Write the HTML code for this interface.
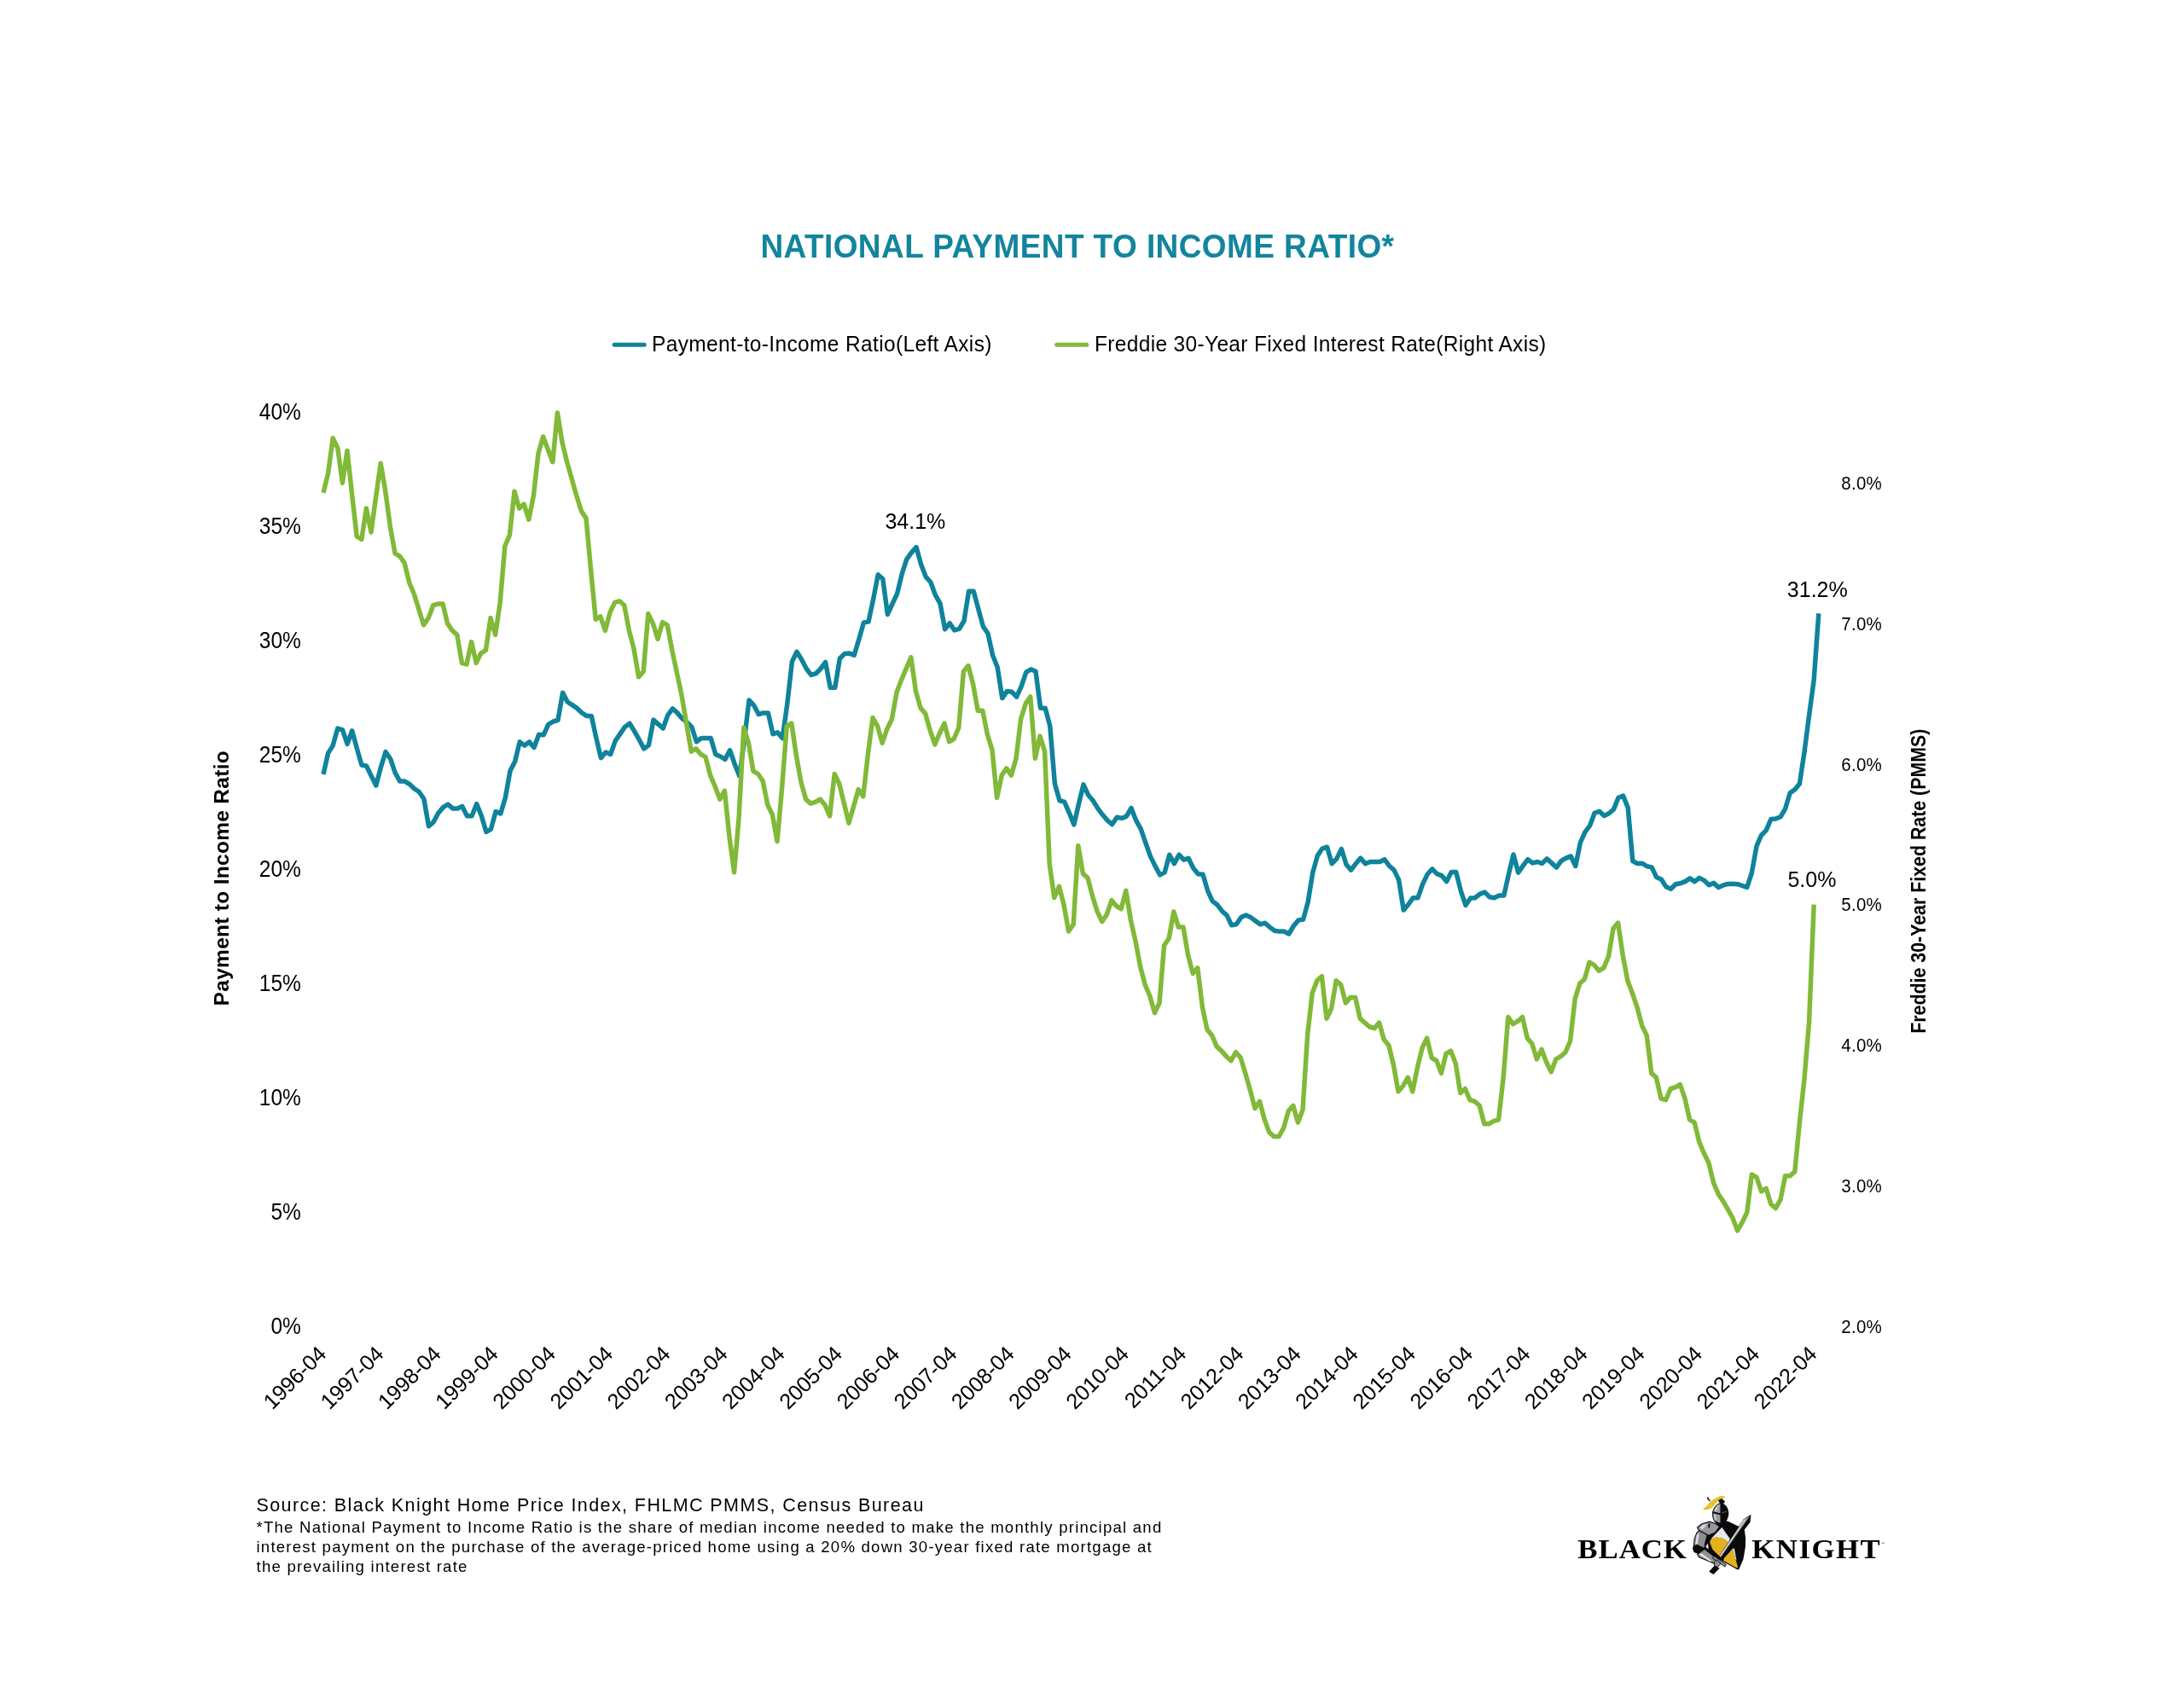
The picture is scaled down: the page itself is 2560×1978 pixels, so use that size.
<!DOCTYPE html>
<html><head><meta charset="utf-8"><title>National Payment to Income Ratio</title>
<style>html,body{margin:0;padding:0;background:#fff;}body{width:2560px;height:1978px;overflow:hidden;}svg{display:block;will-change:transform;font-family:"Liberation Sans",sans-serif;}text{fill:#000;}.ser{font-family:"Liberation Serif",serif;}</style></head><body>
<svg width="2560" height="1978" viewBox="0 0 2560 1978">
<rect width="2560" height="1978" fill="#fff"/>
<text transform="translate(1262.90,302.10) scale(1,1.035)" font-size="37" text-anchor="middle" letter-spacing="0.43" font-weight="bold" style="fill:#12859d">NATIONAL PAYMENT TO INCOME RATIO*</text>
<line x1="720.2" y1="404.2" x2="755.2" y2="404.2" stroke="#0f839b" stroke-width="5" stroke-linecap="round"/>
<text transform="translate(764.00,411.80) scale(1,1.07)" font-size="24.5" letter-spacing="0.36">Payment-to-Income Ratio(Left Axis)</text>
<line x1="1238.7" y1="404.2" x2="1273.7" y2="404.2" stroke="#81b938" stroke-width="5" stroke-linecap="round"/>
<text transform="translate(1283.00,411.80) scale(1,1.07)" font-size="24.5" letter-spacing="0.34">Freddie 30-Year Fixed Interest Rate(Right Axis)</text>
<text transform="translate(352.80,1563.50) scale(1,1.1)" font-size="24.5" text-anchor="end">0%</text>
<text transform="translate(352.80,1429.58) scale(1,1.1)" font-size="24.5" text-anchor="end">5%</text>
<text transform="translate(352.80,1295.65) scale(1,1.1)" font-size="24.5" text-anchor="end">10%</text>
<text transform="translate(352.80,1161.72) scale(1,1.1)" font-size="24.5" text-anchor="end">15%</text>
<text transform="translate(352.80,1027.80) scale(1,1.1)" font-size="24.5" text-anchor="end">20%</text>
<text transform="translate(352.80,893.88) scale(1,1.1)" font-size="24.5" text-anchor="end">25%</text>
<text transform="translate(352.80,759.95) scale(1,1.1)" font-size="24.5" text-anchor="end">30%</text>
<text transform="translate(352.80,626.02) scale(1,1.1)" font-size="24.5" text-anchor="end">35%</text>
<text transform="translate(352.80,492.10) scale(1,1.1)" font-size="24.5" text-anchor="end">40%</text>
<text transform="translate(2158.20,1563.30) scale(1,1.12)" font-size="20.5" letter-spacing="0.3">2.0%</text>
<text transform="translate(2158.20,1398.35) scale(1,1.12)" font-size="20.5" letter-spacing="0.3">3.0%</text>
<text transform="translate(2158.20,1233.40) scale(1,1.12)" font-size="20.5" letter-spacing="0.3">4.0%</text>
<text transform="translate(2158.20,1068.45) scale(1,1.12)" font-size="20.5" letter-spacing="0.3">5.0%</text>
<text transform="translate(2158.20,903.50) scale(1,1.12)" font-size="20.5" letter-spacing="0.3">6.0%</text>
<text transform="translate(2158.20,738.55) scale(1,1.12)" font-size="20.5" letter-spacing="0.3">7.0%</text>
<text transform="translate(2158.20,573.60) scale(1,1.12)" font-size="20.5" letter-spacing="0.3">8.0%</text>
<text transform="translate(383.80,1589.20) rotate(-45)" font-size="25.3" text-anchor="end" letter-spacing="-0.2">1996-04</text>
<text transform="translate(451.00,1589.20) rotate(-45)" font-size="25.3" text-anchor="end" letter-spacing="-0.2">1997-04</text>
<text transform="translate(518.20,1589.20) rotate(-45)" font-size="25.3" text-anchor="end" letter-spacing="-0.2">1998-04</text>
<text transform="translate(585.40,1589.20) rotate(-45)" font-size="25.3" text-anchor="end" letter-spacing="-0.2">1999-04</text>
<text transform="translate(652.60,1589.20) rotate(-45)" font-size="25.3" text-anchor="end" letter-spacing="-0.2">2000-04</text>
<text transform="translate(719.80,1589.20) rotate(-45)" font-size="25.3" text-anchor="end" letter-spacing="-0.2">2001-04</text>
<text transform="translate(787.00,1589.20) rotate(-45)" font-size="25.3" text-anchor="end" letter-spacing="-0.2">2002-04</text>
<text transform="translate(854.20,1589.20) rotate(-45)" font-size="25.3" text-anchor="end" letter-spacing="-0.2">2003-04</text>
<text transform="translate(921.40,1589.20) rotate(-45)" font-size="25.3" text-anchor="end" letter-spacing="-0.2">2004-04</text>
<text transform="translate(988.60,1589.20) rotate(-45)" font-size="25.3" text-anchor="end" letter-spacing="-0.2">2005-04</text>
<text transform="translate(1055.80,1589.20) rotate(-45)" font-size="25.3" text-anchor="end" letter-spacing="-0.2">2006-04</text>
<text transform="translate(1123.00,1589.20) rotate(-45)" font-size="25.3" text-anchor="end" letter-spacing="-0.2">2007-04</text>
<text transform="translate(1190.20,1589.20) rotate(-45)" font-size="25.3" text-anchor="end" letter-spacing="-0.2">2008-04</text>
<text transform="translate(1257.40,1589.20) rotate(-45)" font-size="25.3" text-anchor="end" letter-spacing="-0.2">2009-04</text>
<text transform="translate(1324.60,1589.20) rotate(-45)" font-size="25.3" text-anchor="end" letter-spacing="-0.2">2010-04</text>
<text transform="translate(1391.80,1589.20) rotate(-45)" font-size="25.3" text-anchor="end" letter-spacing="-0.2">2011-04</text>
<text transform="translate(1459.00,1589.20) rotate(-45)" font-size="25.3" text-anchor="end" letter-spacing="-0.2">2012-04</text>
<text transform="translate(1526.20,1589.20) rotate(-45)" font-size="25.3" text-anchor="end" letter-spacing="-0.2">2013-04</text>
<text transform="translate(1593.40,1589.20) rotate(-45)" font-size="25.3" text-anchor="end" letter-spacing="-0.2">2014-04</text>
<text transform="translate(1660.60,1589.20) rotate(-45)" font-size="25.3" text-anchor="end" letter-spacing="-0.2">2015-04</text>
<text transform="translate(1727.80,1589.20) rotate(-45)" font-size="25.3" text-anchor="end" letter-spacing="-0.2">2016-04</text>
<text transform="translate(1795.00,1589.20) rotate(-45)" font-size="25.3" text-anchor="end" letter-spacing="-0.2">2017-04</text>
<text transform="translate(1862.20,1589.20) rotate(-45)" font-size="25.3" text-anchor="end" letter-spacing="-0.2">2018-04</text>
<text transform="translate(1929.40,1589.20) rotate(-45)" font-size="25.3" text-anchor="end" letter-spacing="-0.2">2019-04</text>
<text transform="translate(1996.60,1589.20) rotate(-45)" font-size="25.3" text-anchor="end" letter-spacing="-0.2">2020-04</text>
<text transform="translate(2063.80,1589.20) rotate(-45)" font-size="25.3" text-anchor="end" letter-spacing="-0.2">2021-04</text>
<text transform="translate(2131.00,1589.20) rotate(-45)" font-size="25.3" text-anchor="end" letter-spacing="-0.2">2022-04</text>
<text transform="translate(267.80,1029.70) rotate(-90)" font-size="24.5" text-anchor="middle" letter-spacing="0.29" font-weight="bold">Payment to Income Ratio</text>
<text transform="translate(2256.50,1033.20) rotate(-90) scale(0.905,1)" font-size="23.6" text-anchor="middle" font-weight="bold">Freddie 30-Year Fixed Rate (PMMS)</text>
<path d="M379.0,907.9 L384.6,883.1 L390.2,874.1 L395.8,854.0 L401.5,855.9 L407.1,872.4 L412.7,856.8 L418.3,877.4 L423.9,897.1 L429.5,898.0 L435.1,909.5 L440.8,921.0 L446.4,899.6 L452.0,881.5 L457.6,889.7 L463.2,906.2 L468.8,916.1 L474.5,916.1 L480.1,919.4 L485.7,924.8 L491.3,928.5 L496.9,936.7 L502.5,968.8 L508.1,963.9 L513.8,953.2 L519.4,946.6 L525.0,943.0 L530.6,947.9 L536.2,947.9 L541.8,945.4 L547.5,956.8 L553.1,956.8 L558.7,942.5 L564.3,956.5 L569.9,975.4 L575.5,972.1 L581.1,951.5 L586.8,954.0 L592.4,935.0 L598.0,903.7 L603.6,893.0 L609.2,869.9 L614.8,874.1 L620.4,869.9 L626.0,876.5 L631.6,861.2 L637.2,861.7 L642.8,849.3 L648.4,846.0 L654.0,844.4 L659.6,812.3 L665.2,823.0 L670.8,826.6 L676.4,830.4 L682.0,835.8 L687.6,839.4 L693.2,839.4 L698.8,865.0 L704.4,888.6 L710.0,882.0 L715.6,884.5 L721.2,868.8 L726.8,860.6 L732.4,852.4 L738.0,848.2 L743.6,857.3 L749.2,867.2 L754.8,877.9 L760.4,873.8 L766.0,844.1 L771.6,849.1 L777.2,854.0 L782.8,838.3 L788.4,830.9 L794.0,835.9 L799.6,842.5 L805.2,846.6 L810.8,852.4 L816.4,869.7 L822.0,865.5 L827.6,865.5 L833.2,865.5 L838.8,884.5 L844.4,887.0 L850.0,890.3 L855.6,879.6 L861.2,896.0 L866.8,910.0 L872.4,868.0 L878.0,821.0 L883.6,826.8 L889.2,837.5 L894.8,835.9 L900.4,835.9 L906.0,860.6 L911.6,858.9 L917.2,865.5 L922.8,825.2 L928.4,775.7 L934.0,764.2 L939.6,773.2 L945.2,784.0 L950.8,791.4 L956.4,789.7 L962.0,784.0 L967.6,776.5 L973.2,806.2 L978.8,806.2 L984.4,771.9 L990.0,766.5 L995.6,766.1 L1001.2,768.2 L1006.8,749.6 L1012.4,729.9 L1018.0,729.0 L1023.6,702.7 L1029.2,673.8 L1034.8,678.7 L1040.4,720.4 L1046.0,708.0 L1051.6,696.1 L1057.2,673.0 L1062.8,655.7 L1068.4,647.8 L1074.0,641.6 L1079.6,661.8 L1085.2,676.3 L1090.8,682.5 L1096.4,697.7 L1102.0,707.6 L1107.6,737.7 L1113.2,730.7 L1118.8,738.9 L1124.4,737.4 L1130.0,728.0 L1135.6,693.3 L1141.2,693.3 L1146.8,714.0 L1152.4,734.6 L1158.0,742.8 L1163.6,768.3 L1169.2,782.4 L1174.8,818.6 L1180.4,810.4 L1186.0,811.2 L1191.6,817.0 L1197.2,804.6 L1202.8,788.1 L1208.4,784.8 L1214.0,787.3 L1219.6,830.2 L1225.2,830.2 L1230.8,851.4 L1236.4,919.0 L1242.0,938.8 L1247.6,940.1 L1253.2,952.8 L1258.8,966.8 L1264.4,943.0 L1270.0,919.8 L1275.6,932.2 L1281.2,938.8 L1286.8,947.9 L1292.4,955.3 L1298.0,961.9 L1303.6,966.5 L1309.2,958.2 L1314.8,959.4 L1320.4,957.2 L1326.0,947.4 L1331.6,961.9 L1337.2,971.8 L1342.8,988.2 L1348.4,1003.9 L1354.0,1015.4 L1359.6,1025.8 L1365.2,1022.8 L1370.8,1002.2 L1376.4,1012.6 L1382.0,1002.2 L1387.6,1008.0 L1393.2,1006.4 L1398.8,1017.9 L1404.4,1024.8 L1410.0,1025.3 L1415.6,1044.3 L1421.2,1056.6 L1426.8,1060.8 L1432.4,1068.2 L1438.0,1073.1 L1443.6,1084.7 L1449.2,1083.8 L1454.8,1075.6 L1460.4,1073.1 L1466.0,1075.6 L1471.6,1079.7 L1477.2,1083.8 L1482.8,1082.2 L1488.4,1087.1 L1494.0,1091.2 L1499.6,1092.1 L1505.2,1092.1 L1510.8,1095.0 L1516.4,1085.5 L1522.0,1078.9 L1527.6,1078.1 L1533.2,1057.5 L1538.8,1022.8 L1544.4,1003.1 L1550.0,994.8 L1555.6,993.2 L1561.2,1012.7 L1566.8,1006.9 L1572.4,995.4 L1578.0,1013.5 L1583.6,1020.1 L1589.2,1012.7 L1594.8,1006.1 L1600.4,1012.7 L1606.0,1010.5 L1611.6,1010.5 L1617.2,1010.5 L1622.8,1007.7 L1628.4,1015.2 L1634.0,1020.1 L1639.6,1031.6 L1645.2,1067.1 L1650.8,1060.5 L1656.4,1052.7 L1662.0,1052.7 L1667.6,1036.6 L1673.2,1025.0 L1678.8,1018.9 L1684.4,1024.7 L1690.0,1026.7 L1695.6,1033.6 L1701.2,1022.6 L1706.8,1022.6 L1712.4,1044.8 L1718.0,1061.3 L1723.6,1053.1 L1729.2,1052.7 L1734.8,1048.1 L1740.4,1046.1 L1746.0,1051.7 L1751.6,1052.7 L1757.2,1050.1 L1762.8,1050.1 L1768.4,1025.0 L1774.0,1002.0 L1779.6,1023.1 L1785.2,1015.2 L1790.8,1007.7 L1796.4,1011.9 L1802.0,1010.5 L1807.6,1012.4 L1813.2,1006.9 L1818.8,1011.9 L1824.4,1017.1 L1830.0,1009.4 L1835.6,1006.1 L1841.2,1003.9 L1846.8,1015.5 L1852.4,988.0 L1857.9,975.6 L1863.5,968.2 L1869.1,953.3 L1874.7,951.2 L1880.3,956.6 L1885.9,953.8 L1891.5,948.9 L1897.0,935.3 L1902.6,933.1 L1908.2,947.0 L1913.8,1009.5 L1919.4,1012.6 L1925.0,1012.2 L1930.5,1015.7 L1936.1,1016.9 L1941.7,1028.6 L1947.3,1031.1 L1952.9,1039.8 L1958.5,1042.2 L1964.1,1036.7 L1969.6,1035.8 L1975.2,1033.6 L1980.8,1029.9 L1986.4,1033.6 L1992.0,1029.3 L1997.6,1032.3 L2003.2,1037.7 L2008.7,1035.4 L2014.3,1040.4 L2019.9,1037.9 L2025.5,1036.4 L2031.1,1036.3 L2036.7,1036.7 L2042.2,1038.5 L2047.8,1040.4 L2053.4,1023.1 L2059.0,992.2 L2064.6,979.2 L2070.2,973.6 L2075.8,960.6 L2081.4,960.0 L2087.0,957.8 L2092.6,948.3 L2098.2,929.7 L2103.8,925.8 L2109.4,918.9 L2115.0,881.9 L2120.6,838.7 L2126.2,797.1 L2131.8,719.3" fill="none" stroke="#0f839b" stroke-width="5.5" stroke-linejoin="round" stroke-linecap="butt"/>
<path d="M379.0,577.9 L384.6,554.8 L390.2,513.7 L395.8,525.2 L401.4,566.4 L407.0,528.5 L412.6,579.6 L418.2,629.0 L423.8,632.3 L429.4,596.0 L435.0,624.0 L440.6,582.9 L446.2,543.3 L451.8,576.3 L457.4,617.5 L463.0,648.8 L468.6,652.1 L474.2,660.3 L479.8,683.4 L485.4,696.5 L491.0,714.7 L496.6,732.8 L502.2,724.6 L507.8,709.7 L513.4,708.1 L519.0,708.1 L524.6,731.1 L530.2,739.4 L535.8,744.3 L541.4,777.3 L547.0,778.9 L552.6,752.6 L558.2,777.3 L563.8,765.8 L569.4,762.5 L575.0,724.6 L580.6,744.3 L586.2,706.4 L591.8,640.5 L597.4,627.3 L603.0,576.3 L608.6,596.0 L614.2,591.1 L619.8,609.2 L625.4,581.2 L631.0,531.8 L636.6,512.0 L642.2,526.8 L647.8,541.7 L653.4,484.0 L659.0,518.6 L664.6,541.7 L670.2,561.4 L675.8,581.2 L681.4,599.3 L687.0,607.6 L692.6,668.5 L698.2,726.2 L703.8,722.9 L709.4,739.4 L715.0,718.0 L720.6,706.4 L726.2,704.8 L731.8,709.7 L737.4,739.4 L743.0,760.8 L748.6,793.8 L754.2,787.2 L759.8,719.6 L765.4,731.1 L771.0,749.3 L776.6,729.5 L782.2,732.8 L787.8,762.5 L793.4,788.8 L799.0,815.2 L804.6,848.1 L810.2,881.1 L815.8,877.8 L821.4,884.4 L827.0,887.7 L832.6,909.1 L838.2,922.3 L843.8,937.1 L849.4,927.2 L855.0,981.6 L860.6,1022.8 L866.2,956.9 L871.8,853.1 L877.4,871.2 L883.0,904.2 L888.6,907.5 L894.2,915.7 L899.8,943.7 L905.4,955.2 L911.0,986.5 L916.6,923.9 L922.2,851.4 L927.8,848.1 L933.4,886.0 L939.0,917.3 L944.6,937.1 L950.2,942.1 L955.8,940.4 L961.4,937.1 L967.0,943.7 L972.6,956.9 L978.2,907.5 L983.8,919.0 L989.4,942.1 L995.0,965.1 L1000.6,945.4 L1006.2,925.6 L1011.8,933.8 L1017.4,884.4 L1023.0,841.5 L1028.6,851.4 L1034.2,871.2 L1039.8,854.7 L1045.4,843.2 L1051.0,811.9 L1056.6,797.1 L1062.2,783.9 L1067.8,770.7 L1073.4,810.2 L1079.0,830.0 L1084.6,836.6 L1090.2,856.4 L1095.8,872.9 L1101.4,859.7 L1107.0,848.1 L1112.6,869.6 L1118.2,866.3 L1123.8,853.1 L1129.4,787.2 L1135.0,780.6 L1140.6,802.0 L1146.2,833.3 L1151.8,833.3 L1157.4,861.3 L1163.0,879.4 L1168.6,935.5 L1174.2,909.1 L1179.8,900.9 L1185.4,909.1 L1191.0,889.3 L1196.6,843.2 L1202.2,825.1 L1207.8,816.8 L1213.4,889.3 L1219.0,863.0 L1224.6,881.1 L1230.2,1012.9 L1235.8,1052.5 L1241.4,1039.3 L1247.0,1060.7 L1252.6,1092.0 L1258.2,1083.8 L1263.8,991.5 L1269.4,1024.4 L1275.0,1029.4 L1280.6,1050.8 L1286.2,1068.9 L1291.8,1080.5 L1297.4,1072.2 L1303.0,1055.7 L1308.6,1062.3 L1314.2,1065.6 L1319.8,1044.2 L1325.4,1078.8 L1331.0,1103.5 L1336.6,1133.2 L1342.2,1154.6 L1347.8,1167.8 L1353.4,1187.6 L1359.0,1176.0 L1364.6,1108.5 L1370.2,1100.2 L1375.8,1068.9 L1381.4,1087.1 L1387.0,1087.1 L1392.6,1120.0 L1398.2,1141.4 L1403.8,1134.8 L1409.4,1181.0 L1415.0,1207.3 L1420.6,1213.9 L1426.2,1227.1 L1431.8,1232.1 L1437.4,1238.6 L1443.0,1243.6 L1448.6,1233.7 L1454.2,1240.3 L1459.8,1258.4 L1465.4,1278.2 L1471.0,1299.6 L1476.6,1291.4 L1482.2,1312.8 L1487.8,1327.6 L1493.4,1332.6 L1499.0,1332.6 L1504.6,1322.7 L1510.2,1302.9 L1515.8,1296.3 L1521.4,1316.1 L1527.0,1301.3 L1532.6,1213.9 L1538.2,1164.5 L1543.8,1149.7 L1549.4,1144.7 L1555.0,1194.2 L1560.6,1182.6 L1566.2,1149.7 L1571.8,1154.6 L1577.4,1176.0 L1583.0,1169.4 L1588.6,1169.4 L1594.2,1194.2 L1599.8,1199.1 L1605.4,1204.0 L1611.0,1205.7 L1616.6,1199.1 L1622.2,1218.9 L1627.8,1225.5 L1633.4,1248.5 L1639.0,1279.8 L1644.6,1273.2 L1650.2,1263.4 L1655.8,1279.8 L1661.4,1251.8 L1667.0,1228.8 L1672.6,1217.2 L1678.2,1240.3 L1683.8,1243.6 L1689.4,1258.4 L1695.0,1235.3 L1700.6,1232.1 L1706.2,1246.9 L1711.8,1281.5 L1717.4,1276.5 L1723.0,1289.7 L1728.6,1291.4 L1734.2,1296.3 L1739.8,1317.7 L1745.4,1317.7 L1751.0,1314.4 L1756.6,1312.8 L1762.2,1263.4 L1767.8,1192.5 L1773.4,1200.7 L1779.0,1197.4 L1784.6,1192.5 L1790.2,1217.2 L1795.8,1223.8 L1801.4,1241.9 L1807.0,1230.4 L1812.6,1245.2 L1818.2,1256.8 L1823.8,1241.9 L1829.4,1238.6 L1835.0,1233.7 L1840.6,1220.5 L1846.2,1171.1 L1851.8,1153.0 L1857.4,1148.0 L1863.0,1128.2 L1868.6,1131.5 L1874.2,1138.1 L1879.8,1134.8 L1885.4,1121.7 L1891.0,1088.7 L1896.6,1082.1 L1902.2,1120.0 L1907.8,1149.7 L1913.4,1164.5 L1919.0,1181.0 L1924.6,1202.4 L1930.2,1213.9 L1935.8,1258.4 L1941.4,1263.4 L1947.0,1288.1 L1952.6,1289.7 L1958.2,1276.5 L1963.8,1274.9 L1969.4,1271.6 L1975.0,1288.1 L1980.6,1312.8 L1986.2,1316.1 L1991.8,1339.2 L1997.4,1352.3 L2003.0,1363.9 L2008.6,1386.9 L2014.2,1400.1 L2019.8,1408.4 L2025.4,1418.2 L2031.0,1428.1 L2036.6,1443.0 L2042.2,1433.1 L2047.8,1421.5 L2053.4,1377.0 L2059.0,1380.3 L2064.6,1396.8 L2070.2,1393.5 L2075.8,1411.7 L2081.4,1416.6 L2087.0,1406.7 L2092.6,1378.7 L2098.2,1378.7 L2103.8,1373.8 L2109.4,1316.1 L2115.0,1265.0 L2120.6,1197.4 L2126.2,1060.7" fill="none" stroke="#81b938" stroke-width="5.5" stroke-linejoin="round" stroke-linecap="butt"/>
<text transform="translate(1072.90,619.90)" font-size="25" text-anchor="middle">34.1%</text>
<text transform="translate(2130.30,699.50)" font-size="25" text-anchor="middle">31.2%</text>
<text transform="translate(2123.90,1040.00)" font-size="25" text-anchor="middle">5.0%</text>
<text transform="translate(300.50,1771.50)" font-size="21.5" letter-spacing="1.41">Source: Black Knight Home Price Index, FHLMC PMMS, Census Bureau</text>
<text transform="translate(300.50,1796.60)" font-size="18.6" letter-spacing="1.22">*The National Payment to Income Ratio is the share of median income needed to make the monthly principal and</text>
<text transform="translate(300.50,1819.70)" font-size="18.6" letter-spacing="1.22">interest payment on the purchase of the average-priced home using a 20% down 30-year fixed rate mortgage at</text>
<text transform="translate(300.50,1842.80)" font-size="18.6" letter-spacing="1.22">the prevailing interest rate</text>
<g id="logo">
<text transform="translate(1849.30,1826.90) scale(1.087,1)" font-size="32" letter-spacing="0.9" font-weight="bold" class="ser">BLACK</text>
<text transform="translate(2053.20,1826.90) scale(1.087,1)" font-size="32" letter-spacing="1.4" font-weight="bold" class="ser">KNIGHT</text>
<g transform="translate(1970,1745) scale(0.06519)" stroke-linejoin="round">
<!-- torso + shield black base -->
<polygon points="600,590 720,560 860,600 1010,670 1090,700 1150,760 1168,900 1165,1050 1125,1280 1045,1465 1000,1452 760,1315 690,1235 560,1105 495,965 610,800 690,690" fill="#0a0a0a"/>
<polygon points="690,675 748,700 545,955 525,1005 430,1010 470,835 615,790" fill="#0a0a0a"/>
<polygon points="445,1050 492,990 505,1100" fill="#f0f0f2"/>
<!-- white upper-left of shield -->
<polygon points="742,700 885,905 862,975 760,905 640,882 545,925 560,895" fill="#e6e6ec"/>
<!-- yellow dome -->
<path d="M522,965 Q560,880 650,880 Q770,890 862,975 L700,1228 L570,1100 Z" fill="#e2b11e"/>
<!-- yellow lower right -->
<polygon points="790,1245 935,1085 1032,1425 1000,1432 765,1298" fill="#e2b11e"/>
<polygon points="935,1085 965,1080 1005,1300 985,1265" fill="#ececf0"/>
<polygon points="430,1000 525,1000 572,1100 700,1232 770,1315 640,1262 425,1100" fill="#0a0a0a"/>
<polygon points="447,1052 490,996 503,1098" fill="#f0f0f2"/>
<!-- upper arm -->
<polygon points="330,760 480,830 440,990 425,1085 300,1020 235,1035 250,900 290,800" fill="#8f8f93" stroke="#0a0a0a" stroke-width="16"/>
<polygon points="290,835 335,805 305,1000 262,1010" fill="#dcdce0"/>
<!-- pauldron -->
<polygon points="300,705 380,640 520,600 640,640 700,690 620,800 500,850 470,830 330,760" fill="#98989c" stroke="#0a0a0a" stroke-width="18"/>
<polygon points="345,700 400,660 470,640 420,720 370,735" fill="#d8d8dc"/>
<polygon points="500,630 530,640 520,720 495,700" fill="#0a0a0a"/>
<!-- elbow -->
<polygon points="225,1040 300,1020 440,1085 320,1185 240,1150 215,1090" fill="#0a0a0a"/>
<!-- forearm -->
<polygon points="300,1185 430,1095 615,1235 655,1300 600,1355 560,1335 330,1240" fill="#8f8f93" stroke="#0a0a0a" stroke-width="16"/>
<polygon points="330,1190 370,1165 560,1305 530,1320" fill="#e4e4e8"/>
<!-- crossguard -->
<polygon points="600,1215 820,1372 795,1412 575,1256" fill="#8c8c90" stroke="#0a0a0a" stroke-width="14"/>
<!-- grip -->
<polygon points="610,1390 700,1440 590,1548 510,1500" fill="#0a0a0a"/>
<!-- hand -->
<polygon points="600,1330 655,1290 720,1352 665,1420 605,1392" fill="#8f8f93" stroke="#0a0a0a" stroke-width="14"/>
<!-- sword blade -->
<polygon points="690,1222 1135,555 1265,470 1250,610 750,1262" fill="#0a0a0a"/>
<polygon points="700,1222 1140,565 1245,497 722,1240" fill="#a9a9ad"/>
<polygon points="700,1222 1140,565 1165,550 712,1232" fill="#f2f2f4"/>
<!-- helmet -->
<path d="M720,258 Q610,290 570,420 Q560,520 600,592 L720,642 L800,620 Q865,540 865,440 Q855,300 720,258 Z" fill="#0a0a0a"/>
<path d="M712,275 Q620,305 588,420 L712,448 Z" fill="#9c9ca0"/>
<path d="M700,290 Q640,315 610,400 L650,410 Q660,330 700,290 Z" fill="#d0d0d4"/>
<path d="M585,450 Q580,520 612,582 L712,625 L712,478 Z" fill="#9c9ca0"/>
<path d="M600,465 Q597,520 620,565 L650,575 Q625,520 630,470 Z" fill="#cfcfd3"/>
<line x1="740" y1="440" x2="835" y2="418" stroke="#b0b0b4" stroke-width="8"/>
<!-- plume -->
<path d="M398,372 Q470,330 525,250 Q600,185 700,140 Q775,122 805,165 Q750,185 695,215 Q630,265 585,330 Q530,385 445,392 Z" fill="#e6c42a"/>
<path d="M488,160 Q500,200 530,228 Q505,218 485,190 Z" fill="#0a0a0a" stroke="#0a0a0a" stroke-width="14"/>
<polygon points="675,215 740,185 800,240 770,275 700,265" fill="#0a0a0a"/>
</g>
<text transform="translate(2205.5,1811)" font-size="5" class="ser">®</text>

</g>
</svg></body></html>
